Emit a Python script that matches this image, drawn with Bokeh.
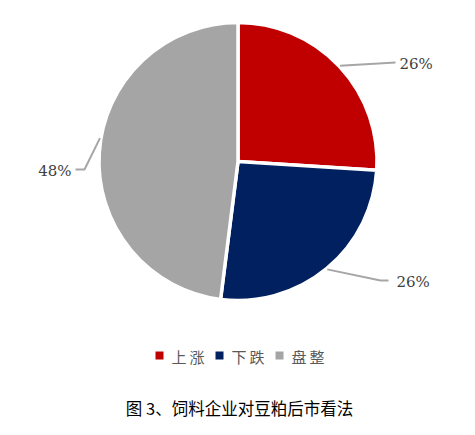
import math
from bokeh.plotting import figure
from bokeh.models import Range1d, ColumnDataSource
from bokeh.core.properties import value
from bokeh.embed import file_html
from bokeh.resources import INLINE

# ---- data ----
categories = ["上涨", "下跌", "盘整"]
shares = [26, 26, 48]
colors = ["#C00000", "#002060", "#A5A5A5"]
title_text = "图 3、饲料企业对豆粕后市看法"

# ---- layout (image pixel coords, y measured from top) ----
W, H = 459, 419
IMG_H = 435
CX, CY, R = 237.5, 161.0, 139.0


def ty(y):
    return IMG_H - y


p = figure(width=W, height=H, output_backend="svg", toolbar_location=None,
           x_range=Range1d(0, W), y_range=Range1d(IMG_H - H, IMG_H),
           min_border=0)
p.axis.visible = False
p.grid.visible = False
p.outline_line_color = None
p.background_fill_color = "white"
p.border_fill_color = "white"

# wedges, clockwise from 12 o'clock
total = float(sum(shares))
starts, ends, mids = [], [], []
a = 90.0
for s in shares:
    sweep = 360.0 * s / total
    starts.append(a)
    ends.append(a - sweep)
    mids.append(a - sweep / 2)
    a -= sweep

src = ColumnDataSource(dict(
    x=[CX] * len(shares), y=[ty(CY)] * len(shares),
    start=[math.radians(v) for v in starts],
    end=[math.radians(v) for v in ends],
    color=colors,
))
p.wedge(x="x", y="y", radius=R, start_angle="start", end_angle="end",
        direction="clock", fill_color="color", line_color="white",
        line_width=3.5, source=src)

# leader lines + labels
leader_angle_tweak = [0.0, 0.0, -6.0]
elbow = [(395, 62), (380, 280), (84, 169)]
tail = [(395, 62), (388, 280), (75, 169)]
label_pos = [(399, 63), (396, 281), (71, 170)]
label_align = ["left", "left", "right"]

xs, ys = [], []
for i, m in enumerate(mids):
    ang = math.radians(m + leader_angle_tweak[i])
    sx = CX + (R + 1) * math.cos(ang)
    sy = CY - (R + 1) * math.sin(ang)
    xs.append([sx, elbow[i][0], tail[i][0]])
    ys.append([ty(sy), ty(elbow[i][1]), ty(tail[i][1])])
p.multi_line(xs=xs, ys=ys, line_color="#A6A6A6", line_width=2)

lab = ColumnDataSource(dict(
    x=[lp[0] for lp in label_pos], y=[ty(lp[1]) for lp in label_pos],
    text=["%d%%" % s for s in shares], align=label_align,
))
p.text(x="x", y="y", text="text", text_align="align", text_baseline="middle",
       text_font=value("DejaVu Serif"),
       text_font_size="15px", text_color="#404040", source=lab)

# legend
leg_x0, leg_dx, leg_y = 159, 60, 355
sq_x = [leg_x0 + i * leg_dx for i in range(len(categories))]
p.rect(x=sq_x, y=[ty(leg_y)] * len(categories), width=8, height=8,
       fill_color=colors, line_color=None)
p.text(x=[v + 12 for v in sq_x], y=[ty(leg_y + 1)] * len(categories),
       text=["\u2009".join(c) for c in categories], text_baseline="middle",
       text_align="left", text_font=value("Noto Sans CJK SC"),
       text_font_size="15px", text_color="#595959")

# title
p.text(x=[239], y=[ty(407)], text=[title_text], text_align="center",
       text_baseline="middle", text_font=value("Noto Sans CJK SC"),
       text_font_size="16.5px", text_color="#000000")

open("out.html", "w").write(file_html(p, INLINE))
